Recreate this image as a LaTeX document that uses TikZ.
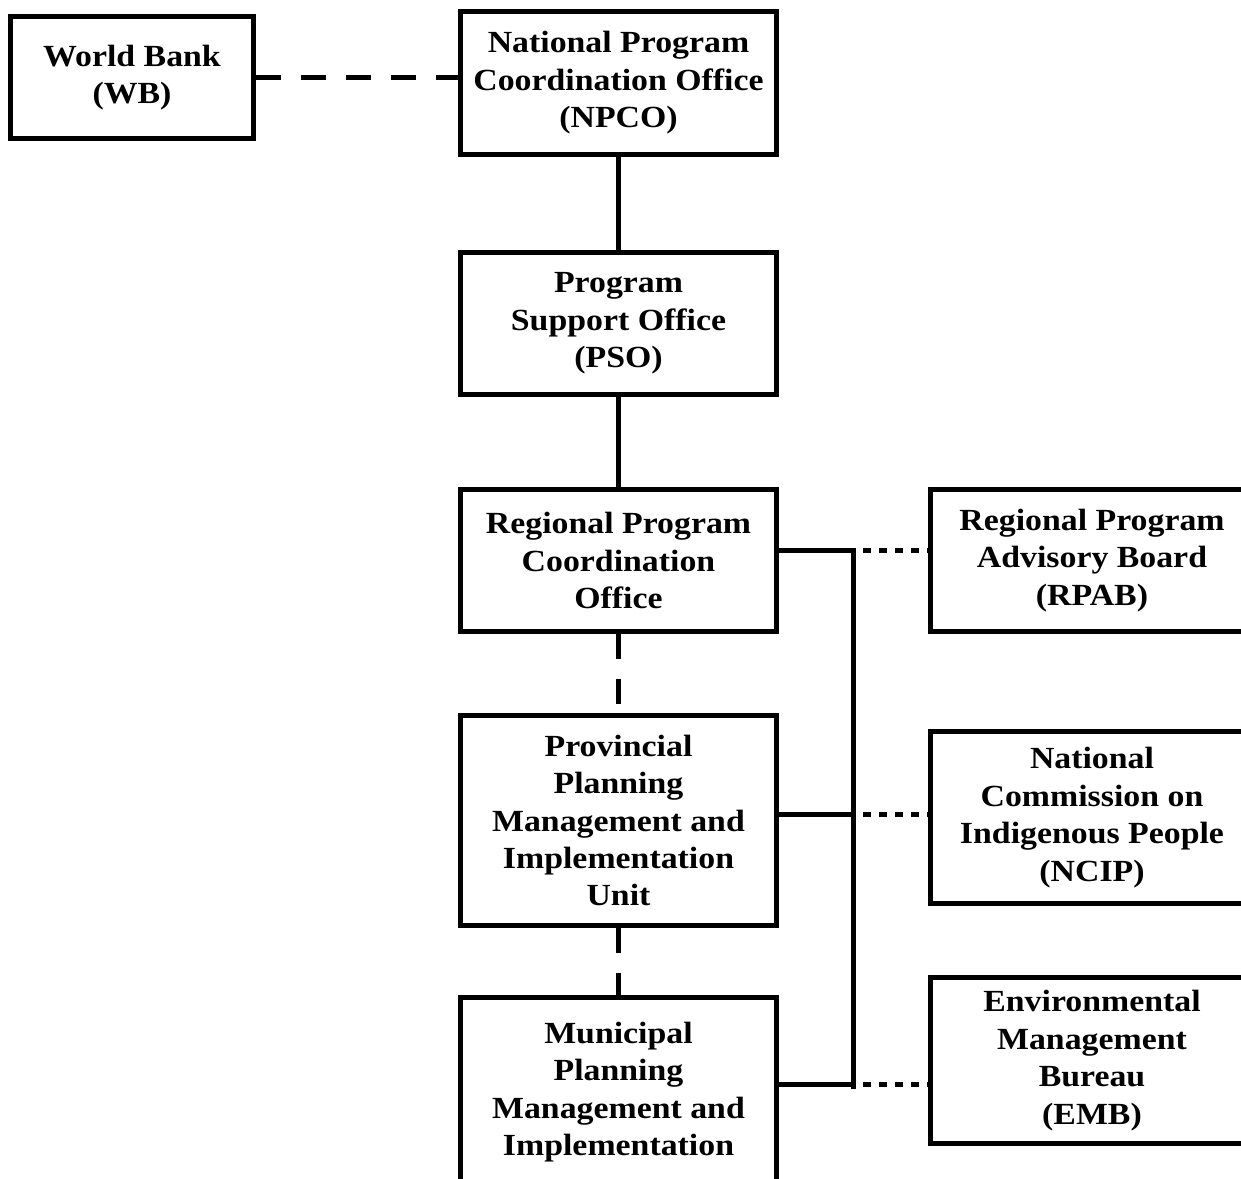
\documentclass[tikz,border=0pt]{standalone}
\usepackage{fontspec}
\setmainfont{Liberation Serif}[FakeStretch=1.1]
\tikzset{
  box/.style={draw, line width=0.1cm, align=center, inner sep=0pt,
    font=\bfseries\fontsize{17.5}{21.3}\selectfont},
  solidline/.style={line width=0.1cm},
  longdash/.style={line width=0.1cm, dash pattern=on 0.5cm off 0.4cm},
  shortdash/.style={line width=0.1cm, dash pattern=on 0.16cm off 0.16cm},
}

\begin{document}
\begin{tikzpicture}[x=0.02cm,y=-0.02cm]
  \useasboundingbox (0,0) rectangle (1241,1178);
  \clip (0,0) rectangle (1241,1178);

  % left column
  \node[box, minimum width=4.86cm, minimum height=2.44cm] (wb) at (132,77.5)
    {World Bank\\(WB)};

  % main column
  \node[box, minimum width=6.32cm, minimum height=2.86cm] (npco) at (618.5,83)
    {National Program\\Coordination Office\\(NPCO)};
  \node[box, minimum width=6.32cm, minimum height=2.84cm] (pso) at (618.5,323.5)
    {Program\\Support Office\\(PSO)};
  \node[box, minimum width=6.32cm, minimum height=2.84cm] (rpco) at (618.5,560.5)
    {Regional Program\\Coordination\\Office};
  \node[box, minimum width=6.32cm, minimum height=4.2cm] (ppmiu) at (618.5,820.5)
    {Provincial\\Planning\\Management and\\Implementation\\Unit};
  % bottom box runs off the page
  \node[box, minimum width=6.32cm, minimum height=3.78cm] (mpmiu) at (618.5,1092)
    {Municipal\\Planning\\Management and\\Implementation};

  % right column
  \node[box, minimum width=6.45cm, minimum height=2.84cm] (rpab) at (1092,560.5)
    {Regional Program\\Advisory Board\\(RPAB)};
  \node[box, minimum width=6.45cm, minimum height=3.44cm] (ncip) at (1092,817.5)
    {National\\Commission on\\Indigenous People\\(NCIP)};
  \node[box, minimum width=6.45cm, minimum height=3.32cm] (emb) at (1092,1060.5)
    {Environmental\\Management\\Bureau\\(EMB)};

  % connectors
  \draw[longdash] (wb.east) -- (wb.east -| npco.west);
  \draw[solidline] (npco.south) -- (pso.north);
  \draw[solidline] (pso.south) -- (rpco.north);
  \draw[longdash] (rpco.south) -- (ppmiu.north);
  \draw[longdash] (ppmiu.south) -- (mpmiu.north);

  % bus to the right column
  \coordinate (b1) at (853,550);
  \coordinate (b2) at (853,814);
  \coordinate (b3) at (853,1084);
  \draw[solidline] (rpco.east |- b1) -- (b1);
  \draw[solidline] (ppmiu.east |- b2) -- (b2);
  \draw[solidline] (mpmiu.east |- b3) -- (b3);
  \draw[solidline] ([yshift=0.05cm]b1) -- ([yshift=-0.1cm]b3);
  \draw[shortdash] ([xshift=0.2cm]b1) -- (b1 -| rpab.west);
  \draw[shortdash] ([xshift=0.2cm]b2) -- (b2 -| ncip.west);
  \draw[shortdash] ([xshift=0.2cm]b3) -- (b3 -| emb.west);
\end{tikzpicture}
\end{document}
